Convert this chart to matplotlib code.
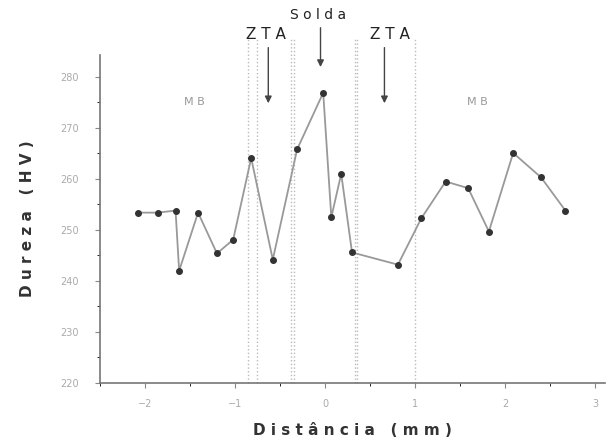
import matplotlib
matplotlib.use('Agg')
import matplotlib.pyplot as plt

# posicao (mm) e dureza (HV)
distancia = [-2.08, -1.86, -1.66, -1.62, -1.41, -1.20, -1.02, -0.82, -0.58, -0.31,
             -0.02, 0.07, 0.18, 0.30, 0.81, 1.07, 1.34, 1.59, 1.82, 2.09, 2.40, 2.67]
dureza = [253.4, 253.4, 253.8, 242.0, 253.4, 245.4, 248.1, 264.1, 244.2, 265.8,
          276.9, 252.5, 261.0, 245.6, 243.2, 252.3, 259.5, 258.2, 249.7, 265.1, 260.3, 253.8]

limites_zta = [-0.86, -0.76, -0.38, -0.35, 0.33, 0.36, 1.0]
xticks = [-2, -1, 0, 1, 2, 3]
yticks = [220, 230, 240, 250, 260, 270, 280]

fig = plt.figure(figsize=(6.13, 4.42), dpi=100)
ax = fig.add_axes([0.163, 0.1335, 0.824, 0.742])

for xl in limites_zta:
    ax.axvline(xl, ymin=0, ymax=1.05, color='#bbbbbb', lw=1.0, ls=':', clip_on=False)

ax.plot(distancia, dureza, '-', color='#999999', lw=1.3, zorder=2)
ax.plot(distancia, dureza, 'o', color='#333333', ms=4, zorder=3)

ax.set_xlim(-2.5, 3.11)
ax.set_ylim(220, 284.3)
ax.set_xticks(xticks)
ax.set_yticks(yticks)
ax.set_xticks([-2.5, -1.5, -0.5, 0.5, 1.5, 2.5], minor=True)
ax.set_yticks([225, 235, 245, 255, 265, 275], minor=True)
ax.tick_params(colors='#888888', labelcolor='#aaaaaa', labelsize=7, direction='out')
ax.tick_params(axis='y', pad=12)
ax.tick_params(axis='x', pad=8)
for s in ['top', 'right']:
    ax.spines[s].set_visible(False)
for s in ['left', 'bottom']:
    ax.spines[s].set_color('#777777')
    ax.spines[s].set_linewidth(1.2)

ax.set_xlabel('D i s t â n c i a   ( m m )', fontsize=11, fontweight='bold',
              color='#333333', labelpad=10)
ax.set_ylabel('D u r e z a   ( H V )', fontsize=11, fontweight='bold',
              color='#333333', labelpad=18)

ax.text(-1.45, 274.5, 'M B', fontsize=8, color='#999999', ha='center')
ax.text(1.69, 274.5, 'M B', fontsize=8, color='#999999', ha='center')

ax.annotate('', xy=(-0.63, 274.3), xytext=(-0.63, 286.3), annotation_clip=False,
            arrowprops=dict(arrowstyle='-|>', color='#444444', lw=1.0))
ax.annotate('', xy=(0.66, 274.3), xytext=(0.66, 286.3), annotation_clip=False,
            arrowprops=dict(arrowstyle='-|>', color='#444444', lw=1.0))
ax.annotate('', xy=(-0.05, 281.4), xytext=(-0.05, 290.2), annotation_clip=False,
            arrowprops=dict(arrowstyle='-|>', color='#444444', lw=1.0))
ax.text(-0.66, 288.3, 'Z T A', fontsize=11, color='#222222', ha='center', va='center')
ax.text(0.72, 288.3, 'Z T A', fontsize=11, color='#222222', ha='center', va='center')
ax.text(-0.08, 292.2, 'S o l d a', fontsize=10, color='#222222', ha='center', va='center')

fig.savefig('out.png', dpi=100)
